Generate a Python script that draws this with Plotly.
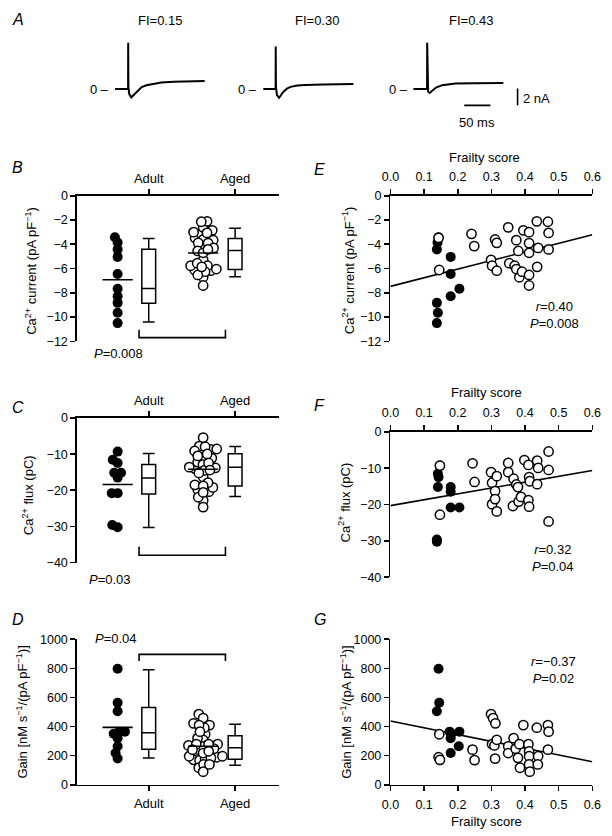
import math
import numpy as np
import plotly.graph_objects as go

W, H = 612, 836

# ---------------- data ----------------
# Panel A: example Ca2+ current traces (time in ms, current in nA)
fi_labels = ["FI=0.15", "FI=0.30", "FI=0.43"]
trace1_t = [0, 24.8, 25.0, 25.4, 27, 30.9, 34, 38.7, 44, 50.7, 60, 69.3, 88, 112, 140, 171]
trace1_i = [0, 0, 5.56, 0.3, -0.6, -0.99, -0.8, -0.47, -0.1, 0.24, 0.45, 0.59, 0.78, 0.89, 0.94, 0.97]
trace2_t = [0, 23.5, 23.7, 24.1, 26, 30, 33, 38, 45, 52, 65, 80, 115, 172]
trace2_i = [0, 0, 5.1, 0.3, -0.7, -1.05, -0.8, -0.35, 0.05, 0.27, 0.42, 0.5, 0.55, 0.6]
trace3_t = [0, 26, 26.2, 26.6, 28, 30.9, 34, 38, 43, 55, 80, 117, 171.5]
trace3_i = [0, 0, 5.56, 0.2, -0.3, -0.47, -0.3, -0.05, 0.19, 0.47, 0.66, 0.71, 0.74]
scalebar_ms = 50
scalebar_nA = 2

group_labels = ["Adult", "Aged"]
frailty_ticks = [0.0, 0.1, 0.2, 0.3, 0.4, 0.5, 0.6]

# Ca2+ current (pA/pF) vs frailty score
cur_adult_fi = [0.143, 0.140, 0.138, 0.138, 0.141, 0.138, 0.179, 0.179, 0.179, 0.205]
cur_adult = [-3.42, -3.85, -4.42, -8.83, -9.65, -10.5, -5.04, -6.45, -8.29, -7.67]
cur_aged_fi = [0.143, 0.145, 0.241, 0.249, 0.299, 0.302, 0.311, 0.316, 0.316, 0.350,
               0.353, 0.369, 0.374, 0.374, 0.380, 0.383, 0.391, 0.395, 0.412, 0.412,
               0.412, 0.412, 0.412, 0.435, 0.439, 0.436, 0.468, 0.470, 0.470]
cur_aged = [-3.47, -6.12, -3.14, -4.15, -5.28, -5.77, -3.60, -3.88, -6.18, -2.60,
            -5.56, -5.77, -6.04, -3.66, -4.55, -6.72, -6.26, -2.85, -3.00, -3.90,
            -4.70, -6.53, -7.40, -2.11, -4.30, -5.86, -2.14, -3.06, -4.42]

# Ca2+ flux (pC) vs frailty score
flux_adult_fi = [0.147, 0.141, 0.143, 0.141, 0.138, 0.138, 0.179, 0.179, 0.179, 0.205]
flux_adult = [-9.3, -11.56, -12.46, -15.17, -29.6, -30.25, -15.17, -16.5, -20.8, -20.8]
flux_aged_fi = [0.147, 0.147, 0.244, 0.250, 0.299, 0.302, 0.302, 0.311, 0.311, 0.316,
                0.316, 0.350, 0.350, 0.366, 0.364, 0.374, 0.379, 0.381, 0.388, 0.398,
                0.410, 0.412, 0.414, 0.410, 0.412, 0.436, 0.439, 0.436, 0.470, 0.470, 0.470]
flux_aged = [-9.3, -22.8, -8.67, -13.8, -11.1, -14.0, -19.9, -16.3, -18.5, -12.2,
             -21.9, -8.58, -11.1, -12.9, -20.4, -14.5, -15.2, -19.2, -17.9, -7.77,
             -9.12, -12.46, -13.6, -18.8, -20.6, -7.95, -9.93, -14.4, -5.42, -10.5, -24.65]

# Gain (nM s-1 / (pA pF-1)) vs frailty score
gain_adult_fi = [0.143, 0.145, 0.138, 0.176, 0.181, 0.179, 0.179, 0.205, 0.203, 0.145]
gain_adult = [797, 563, 505, 365, 350, 320, 218, 365, 264, 180]
gain_aged_fi = [0.145, 0.143, 0.147, 0.244, 0.250, 0.299, 0.305, 0.312, 0.302, 0.309,
                0.316, 0.311, 0.350, 0.350, 0.366, 0.372, 0.379, 0.383, 0.385, 0.395,
                0.410, 0.412, 0.412, 0.412, 0.414, 0.435, 0.439, 0.438, 0.468, 0.470, 0.468]
gain_aged = [347, 189, 171, 241, 169, 485, 458, 422, 279, 270,
             309, 180, 264, 218, 320, 248, 185, 279, 117, 410,
             279, 230, 196, 140, 90, 392, 196, 140, 410, 365, 241]

# box statistics [lower whisker, Q1, median, Q3, upper whisker]
cur_box_adult = [-10.4, -8.86, -7.65, -4.4, -3.52]
cur_box_aged = [-6.67, -6.08, -4.51, -3.53, -2.68]
flux_box_adult = [-30.3, -21.0, -16.6, -12.9, -9.8]
flux_box_aged = [-21.7, -18.8, -13.6, -9.9, -7.9]
gain_box_adult = [184, 244, 357, 531, 791]
gain_box_aged = [134, 175, 254, 337, 415]

# group means [Adult, Aged]
cur_means = [-6.92, -4.72]
flux_means = [-18.4, -14.2]
gain_means = [394, 265]

# regression lines: intercept, slope
cur_fit = [-7.47, 7.1]
flux_fit = [-20.3, 16.1]
gain_fit = [438, -466]

cur_stats = "<i>r</i>=0.40<br><i>P</i>=0.008"
flux_stats = "<i>r</i>=0.32<br><i>P</i>=0.04"
gain_stats = "<i>r</i>=\u22120.37<br><i>P</i>=0.02"
cur_p = "<i>P</i>=0.008"
flux_p = "<i>P</i>=0.03"
gain_p = "<i>P</i>=0.04"

# ---------------- helpers ----------------
FONT = "Liberation Sans, Arial, Helvetica, sans-serif"
LW = 1.6


def pxx(x):
    return x / W


def pxy(y):
    return 1 - y / H


CAT_RANGE = [0.169, 2.506]   # Adult tick at x=144 px, Aged at 233 px
CAT_PX_PER_UNIT = 89.0


def swarm(vals, center, y_scale, d=6.0):
    vals = np.asarray(vals, float)
    order = np.argsort(vals)
    placed = []
    off = np.zeros(len(vals))
    for i in order:
        y = vals[i] * y_scale
        blocks = []
        for xo, yo in placed:
            dy = abs(y - yo)
            if dy < d:
                w = math.sqrt(d * d - dy * dy)
                blocks.append((xo - w, xo + w))
        cands = [0.0] + [b[0] for b in blocks] + [b[1] for b in blocks]
        cands.sort(key=lambda c: (abs(c), c))
        for c in cands:
            if all(not (lo + 1e-6 < c < hi - 1e-6) for lo, hi in blocks):
                off[i] = c
                break
        placed.append((off[i], y))
    return center + off / CAT_PX_PER_UNIT


fig = go.Figure()

FILLED = dict(size=10, color="black", line=dict(width=0))
OPEN = dict(size=9.3, color="white", line=dict(color="black", width=1.5))

# panels: (xaxis, yaxis, adult, aged, box_adult, box_aged, means, y px per unit)
strip_panels = [
    ("x", "y", cur_adult, cur_aged, cur_box_adult, cur_box_aged, cur_means, 148 / 12),
    ("x3", "y3", flux_adult, flux_aged, flux_box_adult, flux_box_aged, flux_means, 147 / 40),
    ("x5", "y5", gain_adult, gain_aged, gain_box_adult, gain_box_aged, gain_means, 148 / 1000),
]
ADULT_C, AGED_C = 0.64, 1.63
for xa, ya, ad, ag, bad, bag, means, ys in strip_panels:
    fig.add_trace(go.Scatter(x=swarm(ad, ADULT_C, ys), y=ad, mode="markers",
                             marker=FILLED, xaxis=xa, yaxis=ya, hoverinfo="skip"))
    fig.add_trace(go.Scatter(x=swarm(ag, AGED_C, ys), y=ag, mode="markers",
                             marker=OPEN, xaxis=xa, yaxis=ya, hoverinfo="skip"))
    for c, m in zip([ADULT_C, AGED_C], means):
        fig.add_trace(go.Scatter(x=[c - 0.175, c + 0.175], y=[m, m], mode="lines",
                                 line=dict(color="black", width=LW), xaxis=xa, yaxis=ya,
                                 hoverinfo="skip"))
    for pos, b in zip([1, 2], [bad, bag]):
        fig.add_trace(go.Box(x=[pos], lowerfence=[b[0]], q1=[b[1]], median=[b[2]],
                             q3=[b[3]], upperfence=[b[4]], width=0.16, whiskerwidth=0.85,
                             fillcolor="white", line=dict(color="black", width=1.5),
                             xaxis=xa, yaxis=ya, hoverinfo="skip"))

scatter_panels = [
    ("x2", "y2", cur_adult_fi, cur_adult, cur_aged_fi, cur_aged, cur_fit),
    ("x4", "y4", flux_adult_fi, flux_adult, flux_aged_fi, flux_aged, flux_fit),
    ("x6", "y6", gain_adult_fi, gain_adult, gain_aged_fi, gain_aged, gain_fit),
]
for xa, ya, fa, ad, fg, ag, fit in scatter_panels:
    xs = np.array([0.0, 0.6])
    fig.add_trace(go.Scatter(x=xs, y=fit[0] + fit[1] * xs, mode="lines",
                             line=dict(color="black", width=LW), xaxis=xa, yaxis=ya,
                             hoverinfo="skip"))
    fig.add_trace(go.Scatter(x=fa, y=ad, mode="markers", marker=FILLED,
                             xaxis=xa, yaxis=ya, hoverinfo="skip"))
    fig.add_trace(go.Scatter(x=fg, y=ag, mode="markers", marker=OPEN,
                             xaxis=xa, yaxis=ya, hoverinfo="skip"))

# Panel A traces
PX_PER_MS = 27 / 50.0
PX_PER_NA = 17 / 2.0
BASE_Y = 83.5
trace_starts_px = [109.3, 262.0, 416.7]
for (t, i), s in zip([(trace1_t, trace1_i), (trace2_t, trace2_i), (trace3_t, trace3_i)],
                     trace_starts_px):
    off = s / PX_PER_MS
    fig.add_trace(go.Scatter(x=[off + v for v in t], y=i, mode="lines",
                             line=dict(color="black", width=2), xaxis="x7", yaxis="y7",
                             hoverinfo="skip"))
hb_start = 469 / PX_PER_MS
hb_y = -(100 - BASE_Y) / PX_PER_NA
fig.add_trace(go.Scatter(x=[hb_start, hb_start + scalebar_ms], y=[hb_y, hb_y], mode="lines",
                         line=dict(color="black", width=LW), xaxis="x7", yaxis="y7",
                         hoverinfo="skip"))
vb_x = 524 / PX_PER_MS
fig.add_trace(go.Scatter(x=[vb_x, vb_x], y=[hb_y, hb_y + scalebar_nA], mode="lines",
                         line=dict(color="black", width=LW), xaxis="x7", yaxis="y7",
                         hoverinfo="skip"))

# ---------------- axes ----------------
def base_axis(**kw):
    d = dict(showline=True, linecolor="black", linewidth=LW, ticks="outside",
             ticklen=5, tickwidth=LW, tickcolor="black", showgrid=False, zeroline=False,
             tickfont=dict(family=FONT, size=12.5, color="black"), fixedrange=True)
    d.update(kw)
    return d


LEFT_X = [pxx(70), pxx(278)]
RIGHT_X = [pxx(393), pxx(601)]
rows = {
    "B": [pxy(340), pxy(192)],
    "E": [pxy(340), pxy(192)],
    "C": [pxy(565), pxy(418)],
    "F": [pxy(580), pxy(432)],
    "D": [pxy(791), pxy(643)],
    "G": [pxy(791), pxy(643)],
}
cur_ticks = dict(range=[-12, 0], tickvals=list(range(-12, 1, 2)))
flux_ticks = dict(range=[-40, 0], tickvals=list(range(-40, 1, 10)))
gain_ticks = dict(range=[0, 1000], tickvals=list(range(0, 1001, 200)))

layout = dict(
    width=W, height=H, autosize=False, showlegend=False,
    margin=dict(l=0, r=0, t=0, b=0, pad=0),
    paper_bgcolor="white", plot_bgcolor="white",
    font=dict(family=FONT, size=13, color="black"),
)
cat_common = dict(range=CAT_RANGE, tickvals=[1, 2], ticktext=group_labels,
                  tickfont=dict(family=FONT, size=13, color="black"))
fr_common = dict(range=[0, 0.6], tickvals=frailty_ticks, tickformat=".1f")

layout["xaxis"] = base_axis(domain=LEFT_X, anchor="y", side="top", ticklabelstandoff=1, **cat_common)
layout["yaxis"] = base_axis(domain=rows["B"], anchor="x", **cur_ticks)
layout["xaxis2"] = base_axis(domain=RIGHT_X, anchor="y2", side="top", ticklabelstandoff=3, **fr_common)
layout["yaxis2"] = base_axis(domain=rows["E"], anchor="x2", **cur_ticks)
layout["xaxis3"] = base_axis(domain=LEFT_X, anchor="y3", side="top", ticklabelstandoff=1, **cat_common)
layout["yaxis3"] = base_axis(domain=rows["C"], anchor="x3", **flux_ticks)
layout["xaxis4"] = base_axis(domain=RIGHT_X, anchor="y4", side="top", ticklabelstandoff=3, **fr_common)
layout["yaxis4"] = base_axis(domain=rows["F"], anchor="x4", **flux_ticks)
layout["xaxis5"] = base_axis(domain=LEFT_X, anchor="y5", side="bottom", ticklabelstandoff=1, **cat_common)
layout["yaxis5"] = base_axis(domain=rows["D"], anchor="x5", **gain_ticks)
layout["xaxis6"] = base_axis(domain=RIGHT_X, anchor="y6", side="bottom", ticklabelstandoff=3, **fr_common)
layout["yaxis6"] = base_axis(domain=rows["G"], anchor="x6", **gain_ticks)
layout["xaxis7"] = dict(domain=[0, 1], range=[0, W / PX_PER_MS], visible=False, anchor="y7",
                        fixedrange=True)
ya_top = BASE_Y - 30
ya_bot = 125 - BASE_Y
layout["yaxis7"] = dict(domain=[pxy(125), pxy(30)], range=[-ya_bot / PX_PER_NA, ya_top / PX_PER_NA],
                        visible=False, anchor="x7", fixedrange=True)

# ---------------- shapes (significance brackets) ----------------
shapes = []
def bracket(xref, yref, x0, x1, ybar, yend):
    path = f"M {x0},{yend} L {x0},{ybar} L {x1},{ybar} L {x1},{yend}"
    shapes.append(dict(type="path", path=path, xref=xref, yref=yref,
                       line=dict(color="black", width=LW)))

bracket("x", "y", 0.888, 1.888, -11.7, -11.05)
bracket("x3", "y3", 0.888, 1.888, -38.0, -35.6)
bracket("x5", "y5", 0.888, 1.888, 896, 851)
layout["shapes"] = shapes

# ---------------- annotations ----------------
anns = []
def ann(text, x, y, size=13, xanchor="center", yanchor="middle", angle=0):
    anns.append(dict(text=text, x=pxx(x), y=pxy(y), xref="paper", yref="paper",
                     showarrow=False, xanchor=xanchor, yanchor=yanchor, textangle=angle,
                     font=dict(family=FONT, size=size, color="black")))

for lab, (x, y) in zip("ABCDEFG", [(1, 13), (1, 163), (1, 407), (1, 623),
                                     (312, 165), (312, 405), (312, 623)]):
    ann(f"<i>{lab}</i>", x, y, size=16, xanchor="left")

for lab, x in zip(fi_labels, [156, 317, 476]):
    ann(lab, x, 14)
for s in trace_starts_px:
    ann("0 \u2013", s - 4, BASE_Y, xanchor="right")
ann("50 ms", 482, 117)
ann("2 nA", 528, 93, xanchor="left")

ann("Frailty score", 490, 153)
ann("Frailty score", 492, 392)
ann("Frailty score", 492, 828)

cur_title = "Ca<sup>2+</sup> current (pA pF<sup>\u22121</sup>)"
flux_title = "Ca<sup>2+</sup> flux (pC)"
gain_title = "Gain [nM s<sup>\u22121</sup>/(pA pF<sup>\u22121</sup>)]"
ann(cur_title, 22, 268, angle=-90)
ann(cur_title, 349, 268, angle=-90)
ann(flux_title, 19, 496, angle=-90)
ann(flux_title, 345, 504, angle=-90)
ann(gain_title, 13, 717, angle=-90)
ann(gain_title, 347, 717, angle=-90)

ann(cur_p, 113, 352)
ann(flux_p, 104, 582)
ann(gain_p, 110, 642)

ann(cur_stats, 562, 313)
ann(flux_stats, 560, 560)
ann(gain_stats, 561, 674)
layout["annotations"] = anns

fig.update_layout(**layout)
fig.write_html(
    "out.html",
    config={"displayModeBar": False, "staticPlot": True},
    post_script=("document.body.style.margin='0';"
                 "document.body.style.overflow='hidden';"
                 "document.documentElement.style.overflow='hidden';"),
)
